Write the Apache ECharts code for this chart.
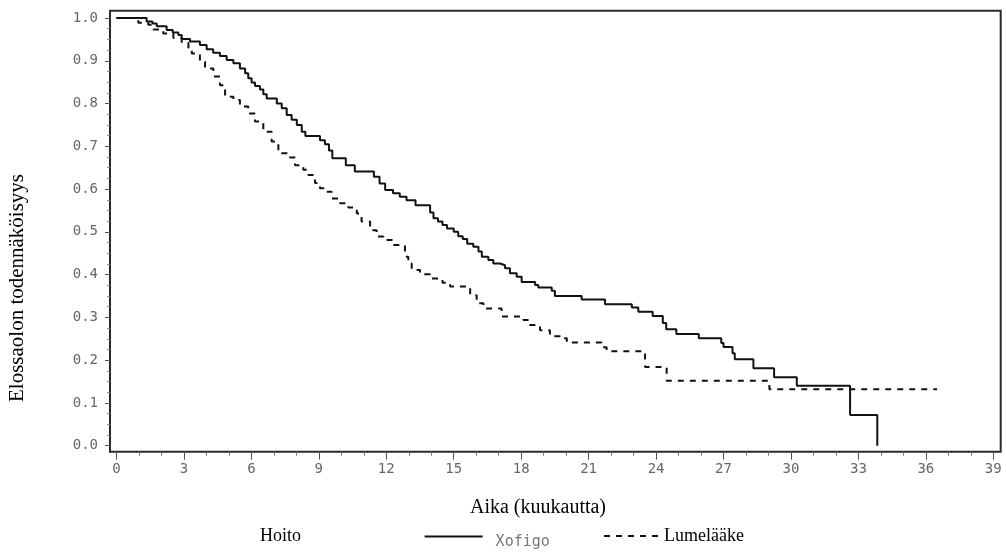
<!DOCTYPE html>
<html>
<head>
<meta charset="utf-8">
<script src="https://cdn.jsdelivr.net/npm/echarts@6/dist/echarts.min.js"></script>
<style>
  html, body { margin: 0; padding: 0; background: #fff; }
  #chart { width: 1006px; height: 552px; }
</style>
</head>
<body>
<div id="chart"></div>
<script>
// Kaplan-Meier curves (months, survival probability)
const xofigoTime = [0, 1.34, 1.6, 1.79, 2.23, 2.5, 2.75, 2.9, 3.27, 3.71, 4.01, 4.3, 4.6, 4.9, 5.2, 5.49, 5.72, 5.86, 6.01, 6.16, 6.38, 6.53, 6.68, 7.13, 7.35, 7.57, 7.79, 8.02, 8.24, 8.4, 9.05, 9.27, 9.45, 9.6, 10.2, 10.6, 11.45, 11.7, 11.95, 12.3, 12.6, 12.9, 13.3, 13.95, 14.1, 14.3, 14.5, 14.7, 15.0, 15.2, 15.4, 15.6, 15.87, 16.1, 16.25, 16.54, 16.76, 17.06, 17.28, 17.5, 17.8, 18.02, 18.62, 18.76, 19.36, 19.5, 20.69, 21.73, 22.92, 23.21, 23.85, 24.3, 24.45, 24.9, 25.9, 26.9, 27.0, 27.4, 27.5, 28.33, 29.25, 30.26, 32.63, 33.84];
const xofigoSurv = [1.0, 0.992, 0.987, 0.981, 0.972, 0.966, 0.96, 0.951, 0.945, 0.937, 0.927, 0.919, 0.911, 0.902, 0.894, 0.882, 0.871, 0.859, 0.849, 0.841, 0.833, 0.822, 0.812, 0.8, 0.789, 0.773, 0.762, 0.75, 0.734, 0.724, 0.714, 0.705, 0.69, 0.672, 0.656, 0.641, 0.629, 0.613, 0.598, 0.59, 0.582, 0.574, 0.562, 0.545, 0.532, 0.524, 0.516, 0.508, 0.5, 0.49, 0.483, 0.472, 0.465, 0.454, 0.442, 0.434, 0.426, 0.422, 0.415, 0.403, 0.395, 0.383, 0.376, 0.37, 0.362, 0.35, 0.342, 0.331, 0.323, 0.313, 0.303, 0.287, 0.272, 0.261, 0.251, 0.24, 0.231, 0.216, 0.202, 0.181, 0.16, 0.14, 0.072, 0.0];

const placeboTime = [0, 0.97, 1.41, 1.64, 2.08, 2.53, 2.9, 3.2, 3.35, 3.71, 3.94, 4.31, 4.6, 4.83, 5.2, 5.49, 5.86, 6.16, 6.53, 6.9, 7.2, 7.72, 7.94, 8.31, 8.53, 8.83, 9.05, 9.35, 9.57, 9.94, 10.31, 10.69, 10.9, 11.28, 11.57, 11.87, 12.31, 12.83, 12.98, 13.13, 13.5, 13.95, 14.5, 14.84, 15.73, 16.02, 16.32, 17.13, 18.1, 18.39, 18.84, 19.28, 19.73, 20.03, 21.58, 21.8, 23.51, 24.47, 29.04, 36.5];
const placeboSurv = [1.0, 0.989, 0.984, 0.973, 0.964, 0.953, 0.942, 0.93, 0.917, 0.898, 0.882, 0.863, 0.843, 0.816, 0.808, 0.793, 0.777, 0.758, 0.734, 0.711, 0.684, 0.674, 0.656, 0.645, 0.633, 0.614, 0.602, 0.594, 0.578, 0.567, 0.557, 0.543, 0.524, 0.504, 0.489, 0.481, 0.469, 0.442, 0.426, 0.411, 0.401, 0.391, 0.381, 0.372, 0.352, 0.333, 0.321, 0.302, 0.294, 0.282, 0.27, 0.256, 0.251, 0.241, 0.23, 0.221, 0.184, 0.152, 0.132, 0.132];

const seriesNames = ['Xofigo', 'Lumelääke'];
const xTitle = 'Aika (kuukautta)';
const yTitle = 'Elossaolon todennäköisyys';
const legendTitle = 'Hoito';

const tickFont = 'DejaVu Sans Mono';
const serifFont = 'Liberation Serif';

function pairs(xs, ys) {
  return xs.map((x, i) => [x, ys[i]]);
}

const chart = echarts.init(document.getElementById('chart'));

// data area: x 0..39 -> 116.5..993.3, y 0..1 -> 445.7..18
// the frame sits a few px outside it, ticks hang off the frame
const F = { left: 110, right: 5.3, top: 10.7, bottom: 100.3 };
const D = { left: 116.5, right: 12.7, top: 18, bottom: 106.3 };

const xMonths = { type: 'value', min: 0, max: 39, interval: 3 };
const yProb = { type: 'value', min: 0, max: 1, interval: 0.1 };

chart.setOption({
  animation: false,
  backgroundColor: '#fff',
  grid: [
    { ...F, show: true, borderColor: '#2a2a2a', borderWidth: 2, outerBoundsMode: 'none' },
    { ...D, outerBoundsMode: 'none' },
    // x ticks: data width, frame height
    { left: D.left, right: D.right, top: F.top, bottom: F.bottom, outerBoundsMode: 'none' },
    // y ticks: frame width, data height
    { left: F.left, right: F.right, top: D.top, bottom: D.bottom, outerBoundsMode: 'none' },
  ],
  xAxis: [
    { gridIndex: 0, type: 'value', min: 0, max: 1, show: false },
    { gridIndex: 1, ...xMonths, show: false },
    {
      gridIndex: 2,
      ...xMonths,
      axisLine: { show: false },
      axisTick: { show: true, length: 8, lineStyle: { color: '#555' } },
      minorTick: { show: true, splitNumber: 3, length: 4, lineStyle: { color: '#777' } },
      splitLine: { show: false },
      axisLabel: { margin: 11, color: '#666', fontFamily: tickFont, fontSize: 14 },
    },
    { gridIndex: 3, type: 'value', min: 0, max: 1, show: false },
  ],
  yAxis: [
    { gridIndex: 0, type: 'value', min: 0, max: 1, show: false },
    { gridIndex: 1, ...yProb, show: false },
    { gridIndex: 2, type: 'value', min: 0, max: 1, show: false },
    {
      gridIndex: 3,
      ...yProb,
      axisLine: { show: false },
      axisTick: { show: true, length: 5, lineStyle: { color: '#555' } },
      minorTick: { show: true, splitNumber: 4, length: 3, lineStyle: { color: '#888' } },
      splitLine: { show: false },
      axisLabel: {
        margin: 12,
        color: '#666',
        fontFamily: tickFont,
        fontSize: 14,
        formatter: (v) => v.toFixed(1),
      },
    },
  ],
  legend: [
    {
      data: [{ name: seriesNames[0] }],
      left: 423.6,
      top: 531,
      padding: 0,
      itemWidth: 58,
      itemHeight: 14,
      itemStyle: { opacity: 0 },
      formatter: '{t|{name}}',
      textStyle: {
        padding: [0, 0, 0, 8],
        rich: { t: { color: '#777', fontFamily: tickFont, fontSize: 15, padding: [12, 0, 0, 0] } },
      },
    },
    {
      data: [{ name: seriesNames[1] }],
      left: 603,
      top: 527,
      padding: 0,
      itemWidth: 55,
      itemHeight: 14,
      itemStyle: { opacity: 0 },
      textStyle: { color: '#000', fontFamily: serifFont, fontSize: 18 },
    },
  ],
  graphic: [
    {
      type: 'text',
      x: 17,
      y: 288,
      rotation: Math.PI / 2,
      style: { text: yTitle, font: '21px "Liberation Serif"', fill: '#000', align: 'center', verticalAlign: 'middle' },
    },
    {
      type: 'text',
      x: 538,
      y: 508,
      style: { text: xTitle, font: '20px "Liberation Serif"', fill: '#000', align: 'center', verticalAlign: 'middle' },
    },
    {
      type: 'text',
      x: 260,
      y: 536,
      style: { text: legendTitle, font: '18px "Liberation Serif"', fill: '#000', align: 'left', verticalAlign: 'middle' },
    },
  ],
  series: [
    {
      name: seriesNames[0],
      type: 'line',
      xAxisIndex: 1,
      yAxisIndex: 1,
      step: 'end',
      symbol: 'none',
      data: pairs(xofigoTime, xofigoSurv),
      lineStyle: { color: '#111', width: 2 },
      itemStyle: { color: '#111' },
      z: 3,
    },
    {
      name: seriesNames[1],
      type: 'line',
      xAxisIndex: 1,
      yAxisIndex: 1,
      step: 'end',
      symbol: 'none',
      data: pairs(placeboTime, placeboSurv),
      lineStyle: { color: '#111', width: 2, type: [6, 6] },
      itemStyle: { color: '#111' },
      z: 2,
    },
  ],
});
</script>
</body>
</html>
